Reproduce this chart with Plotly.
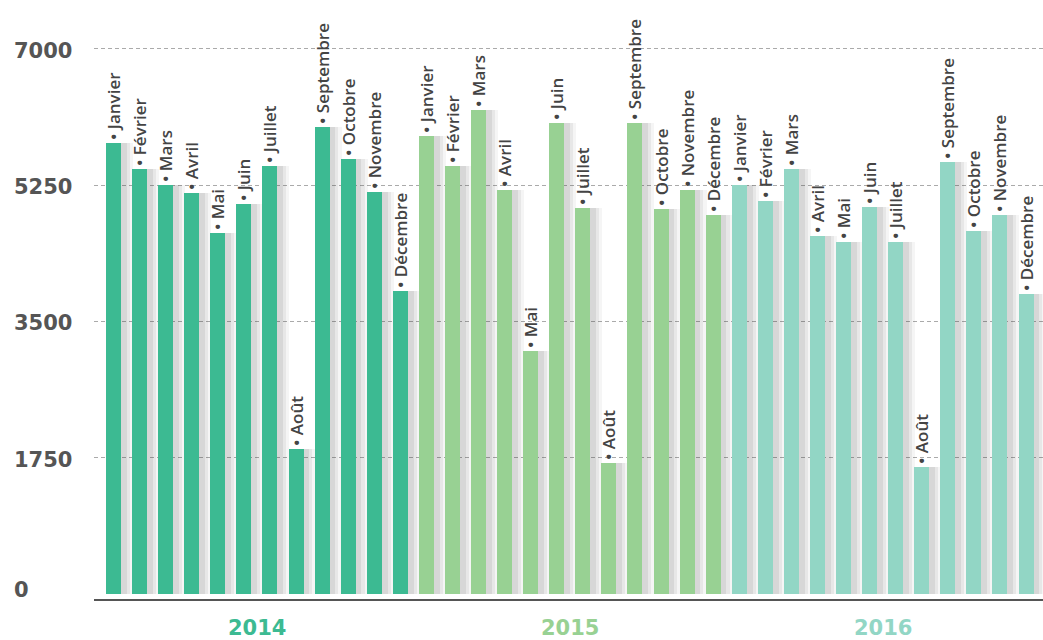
import plotly.graph_objects as go

months = ["Janvier", "Février", "Mars", "Avril", "Mai", "Juin", "Juillet",
          "Août", "Septembre", "Octobre", "Novembre", "Décembre"]
years = ["2014", "2015", "2016"]
values_2014 = [5790, 5450, 5250, 5150, 4630, 5010, 5490, 1860, 5990, 5580, 5160, 3890]
values_2015 = [5880, 5490, 6210, 5190, 3120, 6050, 4960, 1680, 6050, 4940, 5190, 4860]
values_2016 = [5250, 5040, 5460, 4600, 4520, 4970, 4520, 1630, 5550, 4660, 4860, 3850]
year_colors = ["#3cba92", "#98d193", "#92d6c5"]
y_ticks = [0, 1750, 3500, 5250, 7000]

series = [values_2014, values_2015, values_2016]
cats, vals, cols, texts = [], [], [], []
for yi, yr in enumerate(years):
    for mi, m in enumerate(months):
        cats.append(f"{m} {yr}")
        vals.append(series[yi][mi])
        cols.append(year_colors[yi])
        texts.append(f"• {m}")

W, H = 1043, 640
bar_w = 0.575
fig = go.Figure()

# soft shadows to the right of each bar
for shift, alpha in [(0.46, 0.05), (0.34, 0.07), (0.22, 0.09)]:
    fig.add_trace(go.Bar(
        x=cats, y=vals, width=bar_w, offset=-bar_w / 2 + shift,
        marker=dict(color=f"rgba(60,60,60,{alpha})", line=dict(width=0)),
        hoverinfo="skip", showlegend=False))

fig.add_trace(go.Bar(
    x=cats, y=vals, width=bar_w,
    marker=dict(color=cols, line=dict(width=0)),
    text=texts, textposition="outside", textangle=-90,
    constraintext="none", cliponaxis=False,
    textfont=dict(family="Open Sans", size=17, color="#444444", weight=600),
    showlegend=False))

annotations = []
for v in y_ticks:
    annotations.append(dict(
        x=12 / W, xref="paper", xanchor="left",
        y=v, yref="y", yanchor="middle", yshift=-2 if v else 4,
        text=str(v), showarrow=False,
        font=dict(family="DejaVu Sans", size=21, color="#555555", weight="bold")))
for yi, yr in enumerate(years):
    annotations.append(dict(
        x=yi * 12 + 5.5, xref="x", y=0, yref="paper",
        yanchor="middle", yshift=-29, text=yr, showarrow=False,
        font=dict(family="DejaVu Sans", size=21, color=year_colors[yi], weight="bold")))

fig.update_layout(
    width=W, height=H,
    margin=dict(l=0, r=0, t=0, b=41, pad=0),
    paper_bgcolor="white", plot_bgcolor="white",
    barmode="overlay", bargap=0,
    xaxis=dict(domain=[94 / W, 1], type="category", range=[-0.75, 35.65],
               showticklabels=False, showgrid=False, ticks="",
               showline=True, linecolor="#555555", linewidth=2, zeroline=False),
    yaxis=dict(range=[-64, 7625], tickvals=y_ticks[1:], showticklabels=False,
               showgrid=True, gridcolor="#aaaaaa", griddash="4px,3px", gridwidth=1,
               zeroline=False, showline=False, ticks=""),
    annotations=annotations,
)

fig.write_html("out.html", config={"displayModeBar": False},
               post_script="document.body.style.margin='0';document.body.style.overflow='hidden';")
